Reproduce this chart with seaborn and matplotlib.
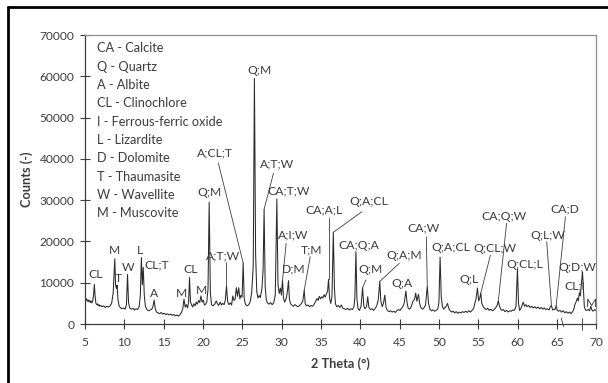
import matplotlib
matplotlib.use("Agg")
import matplotlib.pyplot as plt
from matplotlib.lines import Line2D
import pandas as pd
import seaborn as sns

# XRD pattern: diffraction angle (2 theta, degrees) and detector counts
two_theta = [
    5.0, 5.1, 5.2, 5.3, 5.4, 5.5, 5.6, 5.7, 5.8, 5.9, 6.0, 6.1, 6.2, 6.3, 6.4, 6.5,
    6.6, 6.7, 6.8, 6.9, 7.0, 7.2, 7.4, 7.6, 7.8, 8.0, 8.2, 8.4, 8.6, 8.8, 8.9, 9.0,
    9.1, 9.2, 9.35, 9.5, 9.7, 9.9, 10.1, 10.28, 10.42, 10.55, 10.7, 10.9, 11.1, 11.3, 11.5, 11.7,
    11.9, 12.05, 12.18, 12.3, 12.42, 12.55, 12.7, 12.9, 13.1, 13.3, 13.5, 13.65, 13.8, 13.95, 14.1, 14.3,
    14.5, 14.7, 14.9, 15.1, 15.3, 15.5, 15.7, 15.9, 16.1, 16.3, 16.5, 16.7, 16.9, 17.1, 17.3, 17.45,
    17.6, 17.75, 17.9, 18.05, 18.18, 18.3, 18.42, 18.55, 18.7, 18.85, 19.0, 19.15, 19.3, 19.45, 19.6, 19.75,
    19.9, 20.05, 20.2, 20.35, 20.5, 20.65, 20.8, 20.95, 21.1, 21.3, 21.5, 21.7, 21.85, 22.0, 22.2, 22.35,
    22.5, 22.7, 22.85, 23.0, 23.15, 23.3, 23.5, 23.65, 23.8, 23.95, 24.1, 24.25, 24.4, 24.55, 24.7, 24.85,
    24.98, 25.12, 25.25, 25.4, 25.6, 25.8, 26.0, 26.2, 26.4, 26.55, 26.7, 26.85, 27.0, 27.15, 27.3, 27.5,
    27.65, 27.78, 27.92, 28.05, 28.2, 28.4, 28.6, 28.8, 29.0, 29.2, 29.4, 29.55, 29.7, 29.85, 29.98, 30.12,
    30.25, 30.4, 30.6, 30.75, 30.88, 31.0, 31.15, 31.3, 31.5, 31.7, 31.9, 32.1, 32.3, 32.5, 32.7, 32.88,
    33.0, 33.15, 33.35, 33.55, 33.75, 33.95, 34.15, 34.35, 34.5, 34.65, 34.8, 34.95, 35.1, 35.25, 35.4, 35.55,
    35.7, 35.85, 35.97, 36.1, 36.25, 36.4, 36.58, 36.72, 36.85, 37.0, 37.2, 37.4, 37.6, 37.8, 38.0, 38.2,
    38.4, 38.6, 38.8, 39.0, 39.2, 39.32, 39.45, 39.58, 39.72, 39.9, 40.1, 40.3, 40.45, 40.6, 40.8, 40.95,
    41.1, 41.3, 41.5, 41.7, 41.9, 42.1, 42.3, 42.48, 42.62, 42.8, 42.95, 43.12, 43.28, 43.45, 43.65, 43.85,
    44.05, 44.25, 44.45, 44.65, 44.85, 45.05, 45.25, 45.45, 45.6, 45.8, 45.95, 46.1, 46.3, 46.5, 46.7, 46.9,
    47.05, 47.2, 47.4, 47.55, 47.7, 47.9, 48.1, 48.3, 48.52, 48.68, 48.85, 49.05, 49.25, 49.45, 49.65, 49.85,
    50.0, 50.15, 50.3, 50.45, 50.6, 50.8, 50.95, 51.1, 51.25, 51.4, 51.6, 51.8, 52.0, 52.2, 52.4, 52.6,
    52.8, 53.0, 53.2, 53.4, 53.6, 53.8, 54.0, 54.2, 54.4, 54.6, 54.75, 54.9, 55.05, 55.2, 55.32, 55.45,
    55.6, 55.8, 56.0, 56.2, 56.4, 56.6, 56.8, 57.0, 57.2, 57.4, 57.55, 57.7, 57.85, 58.0, 58.2, 58.4,
    58.6, 58.8, 59.0, 59.2, 59.4, 59.6, 59.8, 59.98, 60.12, 60.25, 60.4, 60.55, 60.72, 60.88, 61.05, 61.2,
    61.4, 61.6, 61.8, 62.0, 62.2, 62.4, 62.6, 62.8, 63.0, 63.2, 63.4, 63.6, 63.8, 64.0, 64.15, 64.3,
    64.45, 64.6, 64.75, 64.9, 65.05, 65.2, 65.4, 65.6, 65.8, 66.0, 66.2, 66.4, 66.6, 66.8, 67.0, 67.15,
    67.3, 67.45, 67.6, 67.72, 67.85, 67.98, 68.12, 68.25, 68.35, 68.48, 68.62, 68.8, 69.0, 69.15, 69.3, 69.45,
    69.6, 69.8, 70.0,
]
counts = [
    6300, 5800, 6100, 5500, 5900, 5400, 5700, 5200, 5600, 5100, 5600, 7000, 9600, 6800, 5000, 4700,
    4900, 4400, 4700, 4300, 4500, 4200, 4400, 4000, 4300, 4100, 4400, 5000, 7600, 15800, 9500, 8600,
    9400, 6000, 4400, 4000, 3700, 3900, 3600, 4600, 12000, 5200, 3900, 3600, 3800, 3400, 3700, 3500,
    4200, 7000, 16100, 9500, 13700, 7000, 4200, 3500, 3200, 3400, 3600, 4200, 5800, 3700, 2900, 2700,
    2500, 2800, 2400, 2600, 2300, 2500, 2200, 2400, 2100, 2300, 2000, 2200, 1900, 2300, 2900, 3800,
    6000, 4100, 4700, 3900, 5200, 11300, 5400, 4700, 4100, 4900, 4400, 5300, 4800, 5700, 5200, 6800,
    5300, 5800, 4600, 4800, 5400, 8500, 29500, 7500, 4700, 4400, 4800, 5600, 4900, 4500, 5300, 4600,
    5000, 4700, 5800, 9200, 5400, 4700, 5100, 4600, 6800, 5700, 6000, 8800, 6700, 8800, 6100, 7000,
    6500, 14800, 6200, 4800, 4400, 4600, 5300, 7500, 14000, 59500, 17000, 7800, 6300, 6900, 6400, 8500,
    13000, 27800, 9000, 6000, 5100, 4800, 5200, 4700, 5100, 7000, 30300, 9500, 7400, 8700, 7000, 10600,
    6200, 5300, 6300, 8000, 10500, 6000, 4900, 4600, 4300, 4700, 4400, 4200, 4500, 4900, 5600, 8200,
    5000, 4400, 4600, 4200, 4500, 4300, 4800, 5600, 6200, 5700, 6700, 6100, 6600, 6300, 7100, 6500,
    7300, 8000, 10800, 6400, 5000, 6500, 22200, 8500, 4900, 4200, 4500, 4000, 4600, 3800, 3700, 3500,
    3800, 3400, 3700, 3500, 4200, 6500, 17500, 6000, 3700, 3300, 4300, 8800, 4400, 3700, 4200, 6600,
    4000, 3500, 3700, 3300, 3800, 4400, 6000, 10300, 5500, 4200, 5000, 7000, 4000, 3300, 3000, 3200,
    2900, 3100, 2800, 3200, 3500, 3300, 3800, 4300, 5200, 8000, 5200, 3800, 3600, 4300, 5500, 6000,
    7500, 5500, 7200, 5000, 4000, 3600, 3900, 4600, 9100, 5000, 3600, 3200, 3400, 3100, 3300, 3600,
    5200, 16200, 6500, 4200, 3600, 4000, 4400, 5000, 3800, 3300, 2900, 3100, 2700, 3000, 2600, 2900,
    2700, 3000, 2800, 3100, 2800, 3200, 2900, 3300, 3700, 5200, 6500, 8700, 5600, 6300, 7500, 5000,
    4300, 3800, 3500, 3800, 3300, 3600, 3200, 3500, 3900, 4500, 5600, 4300, 3600, 3300, 3500, 3000,
    3300, 2900, 3200, 3100, 3400, 3300, 4300, 13300, 5000, 3300, 3600, 4500, 5300, 4300, 4700, 4200,
    4500, 4000, 4300, 3900, 4200, 3800, 4100, 3700, 4000, 3600, 3900, 3500, 3700, 3400, 4200, 4500,
    3400, 3600, 3500, 4400, 3300, 3100, 3300, 2900, 3200, 2700, 3000, 2600, 2900, 2500, 3000, 3600,
    4800, 5400, 6300, 5600, 7600, 6800, 10000, 12600, 8800, 4300, 3400, 3300, 3500, 3200, 4300, 3400,
    3100, 3500, 3200,
]

# Phase abbreviations listed in the upper-left corner
phase_key = [
    "CA - Calcite",
    "Q - Quartz",
    "A - Albite",
    "CL - Clinochlore",
    "I - Ferrous-ferric oxide",
    "L - Lizardite",
    "D - Dolomite",
    "T - Thaumasite",
    "W - Wavellite",
    "M - Muscovite",
]

# Peak identifications and where their text sits (2 theta, counts)
peak_labels = [
    "CL", "M", "T", "W", "L", "CL;T", "A", "M", "CL", "M",
    "Q;M", "A;T;W", "A;CL;T", "Q;M", "A;T;W", "CA;T;W", "A;I;W", "D;M", "T;M", "CA;A;L",
    "Q;A;CL", "CA;Q;A", "Q;M", "Q;A;M", "Q;A", "CA;W", "Q;A;CL", "Q;L", "Q;CL;W", "CA;Q;W",
    "Q;CL;L", "Q;L;W", "CA;D", "CL;I", "Q;D;W", "M",
]
label_x = [
    6.4, 8.74, 9.3, 10.45, 12.0, 14.1, 13.82, 17.3, 18.37, 19.77,
    20.8, 22.6, 21.55, 27.25, 29.4, 30.88, 31.5, 31.5, 33.85, 35.33,
    41.05, 39.77, 41.26, 45.6, 45.37, 48.05, 51.54, 53.87, 57.05, 58.32,
    60.86, 63.83, 65.96, 67.3, 67.64, 69.35,
]
label_y = [
    12100, 17750, 11000, 13700, 17750, 14300, 7350, 7350, 13300, 8100,
    31900, 16400, 41500, 61300, 38750, 32300, 21550, 13250, 17900, 27600,
    29600, 19100, 13250, 16700, 9850, 23200, 18500, 10800, 18300, 26000,
    14300, 21550, 27800, 9200, 13700, 5000,
]

# Leader lines: start point under a label, ending on top of the peak at leader_peak
leader_x0 = [23.0, 21.96, 28.97, 30.58, 33.64, 35.97, 40.2, 40.72, 44.96, 48.4, 56.55, 58.6, 63.7, 66.08]
leader_y0 = [15100, 39000, 36500, 19500, 16300, 25600, 27200, 10700, 14700, 21100, 16700, 24400, 19900, 26000]
leader_peak = [23.0, 25.12, 27.78, 30.12, 32.88, 35.97, 36.58, 40.3, 42.48, 48.52, 55.32, 57.55, 64.3, 64.9]

sns.set_style("ticks")
plt.rcParams["font.family"] = ["Lato", "DejaVu Sans"]
ink = "#3c3c3c"

fig = plt.figure(figsize=(6.08, 3.83), dpi=100)
fig.patch.set_facecolor("white")
ax = fig.add_axes([0.1396, 0.1540, 0.8411, 0.7546])

pattern = pd.DataFrame({"two_theta": two_theta, "counts": counts})
sns.lineplot(data=pattern, x="two_theta", y="counts", ax=ax, color="#2a2a2a",
             linewidth=0.75, estimator=None, sort=False)

ax.set_xlim(5, 70)
ax.set_ylim(0, 70000)
ax.set_xticks(range(5, 71, 5))
ax.set_yticks(range(0, 70001, 10000))
ax.tick_params(axis="both", direction="inout", length=7, width=0.8, color=ink,
               labelcolor=ink, labelsize=8.6)
ax.tick_params(axis="x", pad=6)
ax.tick_params(axis="y", pad=4)

for side in ("left", "bottom"):
    ax.spines[side].set_color(ink)
    ax.spines[side].set_linewidth(0.9)
for side in ("top", "right"):
    ax.spines[side].set_visible(True)
    ax.spines[side].set_color("#8f8f8f")
    ax.spines[side].set_linewidth(0.9)

ax.set_xlabel("2 Theta (°)", fontsize=9.2, color=ink, fontweight="bold", va="center")
ax.set_ylabel("Counts (-)", fontsize=9.2, color=ink, fontweight="bold", va="center")
ax.xaxis.set_label_coords(0.4998, -0.136)
ax.yaxis.set_label_coords(-0.1138, 0.5)

# Phase key
for i, entry in enumerate(phase_key):
    py = 48.3 + 18.33 * i
    ax.text(0.0237, (324 - py) / 289, entry, transform=ax.transAxes, ha="left",
            va="center", fontsize=9.2, color=ink)

# Peak labels
for text, x, y in zip(peak_labels, label_x, label_y):
    ax.text(x, y, text, ha="center", va="center", fontsize=8.7, color=ink)

# Leader lines to the identified peaks
peak_height = dict(zip(two_theta, counts))
for x0, y0, xp in zip(leader_x0, leader_y0, leader_peak):
    ax.plot([x0, xp], [y0, peak_height[xp]], color=ink, linewidth=0.6)

# Short strokes crossing the baseline near 65.7 and 68.25
ax.plot([65.55, 65.85], [1400, -600], color=ink, linewidth=0.6, clip_on=False)
ax.plot([68.25, 68.25], [1500, -1500], color=ink, linewidth=0.6, clip_on=False)

# Outer frame (top and left edges visible)
fig.add_artist(Line2D([7.5 / 608, 1.0], [1 - 7 / 383, 1 - 7 / 383],
                      transform=fig.transFigure, color="black", linewidth=2.0))
fig.add_artist(Line2D([7.5 / 608, 7.5 / 608], [0.0, 1 - 7 / 383],
                      transform=fig.transFigure, color="black", linewidth=2.0))

fig.savefig("out.png", dpi=100)
